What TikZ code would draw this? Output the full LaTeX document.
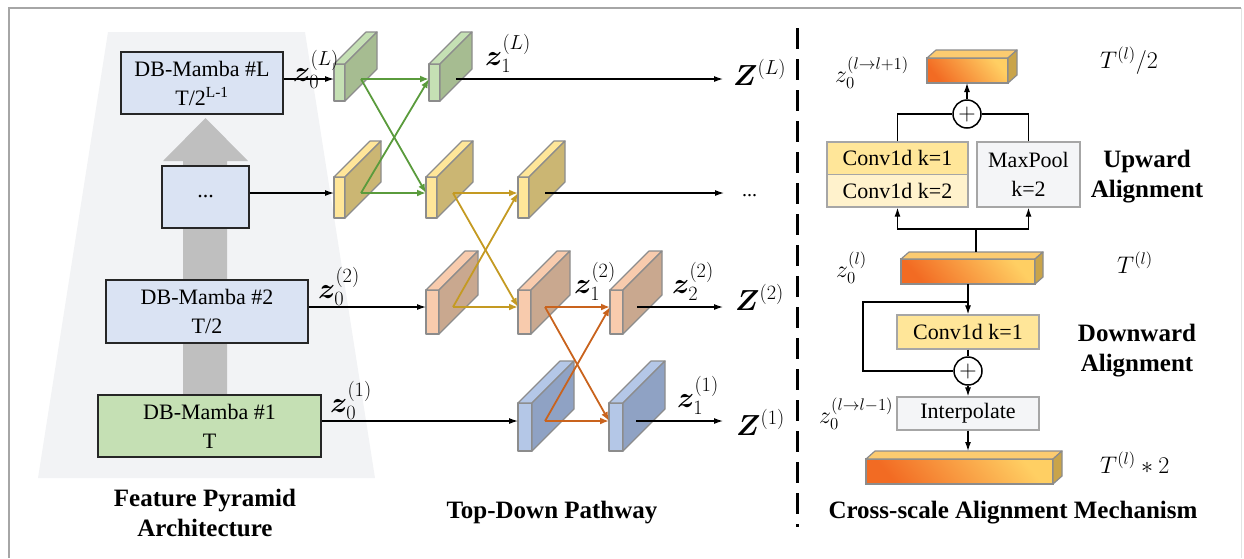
\RequirePackage{fix-cm}
\documentclass[tikz,border=0pt]{standalone}
\usepackage{amsmath}
\usepackage{bm}
\usepackage{fontspec}
\setmainfont{Liberation Serif}
\usetikzlibrary{arrows.meta}

\definecolor{framegray}{HTML}{A6A6A6}
\definecolor{framefaint}{HTML}{E3E3E3}
\definecolor{pyrfill}{HTML}{F2F3F5}
\definecolor{arrowgray}{HTML}{BFBFBF}
\definecolor{boxblue}{HTML}{DAE3F3}
\definecolor{boxgreen}{HTML}{C5E0B4}
\definecolor{boxedge}{HTML}{262626}
\definecolor{blkedge}{HTML}{8C8C8C}
\definecolor{greenF}{HTML}{C5E0B4}
\definecolor{greenS}{HTML}{A6BC91}
\definecolor{yellowF}{HTML}{FFE699}
\definecolor{yellowS}{HTML}{CBB673}
\definecolor{peachF}{HTML}{F8CBAD}
\definecolor{peachS}{HTML}{C9A88F}
\definecolor{blueF}{HTML}{B4C7E7}
\definecolor{blueS}{HTML}{8FA2C4}
\definecolor{arrGreen}{HTML}{5A9B3C}
\definecolor{arrGold}{HTML}{C49A22}
\definecolor{arrOrange}{HTML}{C9631D}
\definecolor{convY}{HTML}{FFE699}
\definecolor{convL}{HTML}{FFF2CC}
\definecolor{poolF}{HTML}{F4F5F7}
\definecolor{convedge}{HTML}{A6A6A6}
\definecolor{barA}{HTML}{F26B23}
\definecolor{barB}{HTML}{F9A63A}
\definecolor{barC}{HTML}{FFCF63}
\definecolor{barTop}{HTML}{FCCB70}
\definecolor{barSide}{HTML}{C9A44A}

% 3D feature block: name, x, top y, width, height, depth, front colour, side colour, line y
\newcommand{\featblock}[9]{%
  \path[blockedge,fill=#7] (#2,#3) rectangle ++(#4,#5);
  \path[blockedge,fill=#7] (#2,#3) -- ++(#6,-#6) -- ++(#4,0) -- ++(-#6,#6) -- cycle;
  \path[blockedge,fill=#8] (#2+#4,#3) -- ++(#6,-#6) -- ++(0,#5) -- ++(-#6,#6) -- cycle;
  \coordinate (#1-in) at (#2,#9);
  \coordinate (#1-out) at (#2+27,#9);
}
% top and side faces of a flat bar whose front face is node #1, depth #2/#3
\newcommand{\barfaces}[3]{%
  \path[blockedge,fill=barTop] (#1.north west) -- ++(#2,-#3) -- ([shift={(#2,-#3)}]#1.north east) -- (#1.north east) -- cycle;
  \path[blockedge,fill=barSide] (#1.north east) -- ++(#2,-#3) -- ([shift={(#2,-#3)}]#1.south east) -- (#1.south east) -- cycle;
}

\begin{document}
\begin{tikzpicture}[x=1pt,y=-1pt,
  boxtext/.style={font=\fontsize{22}{29}\selectfont},
  title/.style={font=\fontsize{25}{30}\selectfont\bfseries, align=center},
  pyrbox/.style={draw=boxedge, line width=1.5pt, align=center, inner sep=0pt, boxtext},
  blockedge/.style={draw=blkedge, line width=1.2pt, line join=round},
  conn/.style={line width=1.2pt, -{Latex[length=9pt,width=6pt]}},
  plainline/.style={line width=1.2pt},
  cross/.style={line width=1.8pt, -{Latex[length=9pt,width=7pt]}},
  zlab/.style={font=\fontsize{29}{30}\selectfont, inner sep=0pt, anchor=base west},
  rlab/.style={font=\fontsize{24}{26}\selectfont, inner sep=0pt, anchor=base west},
  opbox/.style={draw=convedge, line width=1.3pt, inner sep=0pt, boxtext},
  bar/.style={draw=blkedge, line width=1.2pt, inner sep=0pt, outer sep=0pt,
    left color=barA, middle color=barB, right color=barC, shading angle=130},
  plus/.style={circle, draw=black, fill=white, line width=1.5pt, minimum size=28pt,
    inner sep=0pt, font=\fontsize{24}{24}\selectfont}
]
\useasboundingbox (0,0) rectangle (1244,558);

% frame
\draw[framegray, line width=1.5pt] (9,558) -- (9,8) -- (1241,8);
\draw[framefaint, line width=1pt] (1241,8) -- (1241,558);

% ---------------- feature pyramid ----------------
\fill[pyrfill] (108,32) -- (305,32) -- (375,478) -- (38,478) -- cycle;
\fill[arrowgray] (205.5,118) -- (248,161) -- (227,161) -- (227,395) -- (183,395)
  -- (183,161) -- (163,161) -- cycle;

\node[pyrbox, fill=boxblue, minimum width=162pt, minimum height=62pt] (mL) at (202,83)
  {DB-Mamba \#L\\T/2\textsuperscript{L-1}};
\node[pyrbox, fill=boxblue, minimum width=87pt, minimum height=62pt] (mD) at (205.5,197) {...};
\node[pyrbox, fill=boxblue, minimum width=202pt, minimum height=63pt] (m2) at (207,311.5)
  {DB-Mamba \#2\\T/2};
\node[pyrbox, fill=boxgreen, minimum width=223pt, minimum height=62pt] (m1) at (209.5,426)
  {DB-Mamba \#1\\T};

\node[title] (tFP) at (205,513) {Feature Pyramid\\Architecture};

% ---------------- top-down pathway ----------------
\featblock{G1}{334}{64}{11}{37}{32}{greenF}{greenS}{79}
\featblock{G2}{429}{64}{11}{37}{32}{greenF}{greenS}{79}
\featblock{Y1}{334}{177}{11}{41}{36}{yellowF}{yellowS}{193}
\featblock{Y2}{426}{177}{11}{41}{36}{yellowF}{yellowS}{193}
\featblock{Y3}{518}{177}{11}{41}{36}{yellowF}{yellowS}{193}
\featblock{P1}{426}{290}{13}{44}{39}{peachF}{peachS}{307}
\featblock{P2}{518}{290}{13}{44}{39}{peachF}{peachS}{307}
\featblock{P3}{610}{290}{13}{44}{39}{peachF}{peachS}{307}
\featblock{B1}{518}{403}{14}{48}{42}{blueF}{blueS}{421}
\featblock{B2}{609}{403}{14}{48}{42}{blueF}{blueS}{421}

% inputs from the pyramid
\draw[conn] (G1-in -| mL.east) -- (G1-in);
\draw[conn] (Y1-in -| mD.east) -- (Y1-in);
\draw[conn] (P1-in -| m2.east) -- (P1-in);
\draw[conn] (B1-in -| m1.east) -- (B1-in);

% cross-scale exchanges
\draw[cross, arrGreen] (G1-out) -- (G2-in);
\draw[cross, arrGreen] (G1-out) -- (Y2-in);
\draw[cross, arrGreen] (Y1-out) -- (Y2-in);
\draw[cross, arrGreen] (Y1-out) -- (G2-in);
\draw[cross, arrGold] (Y2-out) -- (Y3-in);
\draw[cross, arrGold] (Y2-out) -- (P2-in);
\draw[cross, arrGold] (P1-out) -- (P2-in);
\draw[cross, arrGold] (P1-out) -- (Y3-in);
\draw[cross, arrOrange] (P2-out) -- (P3-in);
\draw[cross, arrOrange] (P2-out) -- (B2-in);
\draw[cross, arrOrange] (B1-out) -- (B2-in);
\draw[cross, arrOrange] (B1-out) -- (P3-in);

% outputs
\node[zlab] (ZL) at (733,85) {$\bm{Z}^{(L)}$};
\node[rlab, font=\fontsize{20}{22}\selectfont] (ZD) at (742,196) {...};
\node[zlab] (Z2) at (735,310) {$\bm{Z}^{(2)}$};
\node[zlab] (Z1) at (736,435) {$\bm{Z}^{(1)}$};
\draw[conn] (G2-out) -- ([xshift=-10pt]G2-out -| ZL.west);
\draw[conn] (Y3-out) -- ([xshift=-18pt]Y3-out -| ZD.west);
\draw[conn] (P3-out) -- ([xshift=-12pt]P3-out -| Z2.west);
\draw[conn] (B2-out) -- ([xshift=-13pt]B2-out -| Z1.west);

% feature labels
\node[zlab] (z0L) at (293,81) {$\bm{z}_0^{(L)}$};
\node[zlab] (z1L) at (485,65) {$\bm{z}_1^{(L)}$};
\node[zlab] (z02) at (318,298) {$\bm{z}_0^{(2)}$};
\node[zlab] (z01) at (330,412) {$\bm{z}_0^{(1)}$};
\node[zlab] (z12) at (574,293) {$\bm{z}_1^{(2)}$};
\node[zlab] (z22) at (672,293) {$\bm{z}_2^{(2)}$};
\node[zlab] (z11) at (677,407) {$\bm{z}_1^{(1)}$};

\node[title] (tTD) at (552,513) {Top-Down Pathway};

% separator
\draw[black, line width=3pt, dash pattern=on 21pt off 10pt] (797,28) -- (797,527);

% ---------------- cross-scale alignment ----------------
\node[bar, minimum width=81pt, minimum height=25pt] (TB) at (967.5,70.5) {};
\barfaces{TB}{9}{8}
\node[bar, minimum width=134pt, minimum height=25pt] (MB) at (968,271.5) {};
\barfaces{MB}{8}{7}
\node[bar, minimum width=187pt, minimum height=25pt] (BB) at (959.5,471.5) {};
\barfaces{BB}{9}{8}

\node[rlab] (lup) at (835,82) {$z_0^{(l\rightarrow l+1)}$};
\node[rlab] (tup) at (1100,68) {$T^{(l)}/2$};
\node[rlab] (lmid) at (836,277) {$z_0^{(l)}$};
\node[rlab] (tmid) at (1117,273) {$T^{(l)}$};
\node[rlab] (ldn) at (819,423) {$z_0^{(l\rightarrow l-1)}$};
\node[rlab] (tdn) at (1100,473) {$T^{(l)}*2$};

% upward branch
\node[opbox, fill=convY, minimum width=141pt, minimum height=32.5pt] (c1) at (897.5,158.25) {Conv1d k=1};
\node[opbox, fill=convL, minimum width=141pt, minimum height=32.5pt] (c2) at (897.5,190.75) {Conv1d k=2};
\node[opbox, fill=poolF, minimum width=103pt, minimum height=65pt, align=center,
  font=\fontsize{22}{29}\selectfont] (mp) at (1028.5,174.5) {MaxPool\\k=2};
\node[plus] (p1) at (967,114) {$+$};
\coordinate (split) at (976,229);
\coordinate (mbtop) at (976,252);
\draw[plainline] (mbtop) -- (split);
\draw[conn] (split) -| (c2.south);
\draw[conn] (split) -| (mp.south);
\draw[plainline] (c1.north) |- (p1.west);
\draw[plainline] (mp.north) |- (p1.east);
\draw[conn] (p1.north) -- (p1.north |- TB.south);
\node[title] (tUp) at (1147,177) {Upward\\Alignment};

% downward branch
\node[opbox, fill=convY, minimum width=142pt, minimum height=34pt] (c3) at (968,332) {Conv1d k=1};
\node[plus] (p2) at (968,371) {$+$};
\node[opbox, fill=poolF, minimum width=142pt, minimum height=33pt] (ip) at (968,413.5) {Interpolate};
\coordinate (br) at (968,302);
\coordinate (loop) at (863,302);
\draw[conn] (MB.south) -- (c3.north);
\draw[plainline] (br) -- (loop) |- (p2.west);
\draw[plainline] (c3.south) -- (p2.north);
\draw[conn] (p2.south) -- (ip.north);
\draw[conn] (ip.south) -- ([yshift=8pt]ip.south |- BB.north);
\node[title] (tDn) at (1137,350.5) {Downward\\Alignment};

\node[title] (tCS) at (1013,513) {Cross-scale Alignment Mechanism};
\end{tikzpicture}
\end{document}
